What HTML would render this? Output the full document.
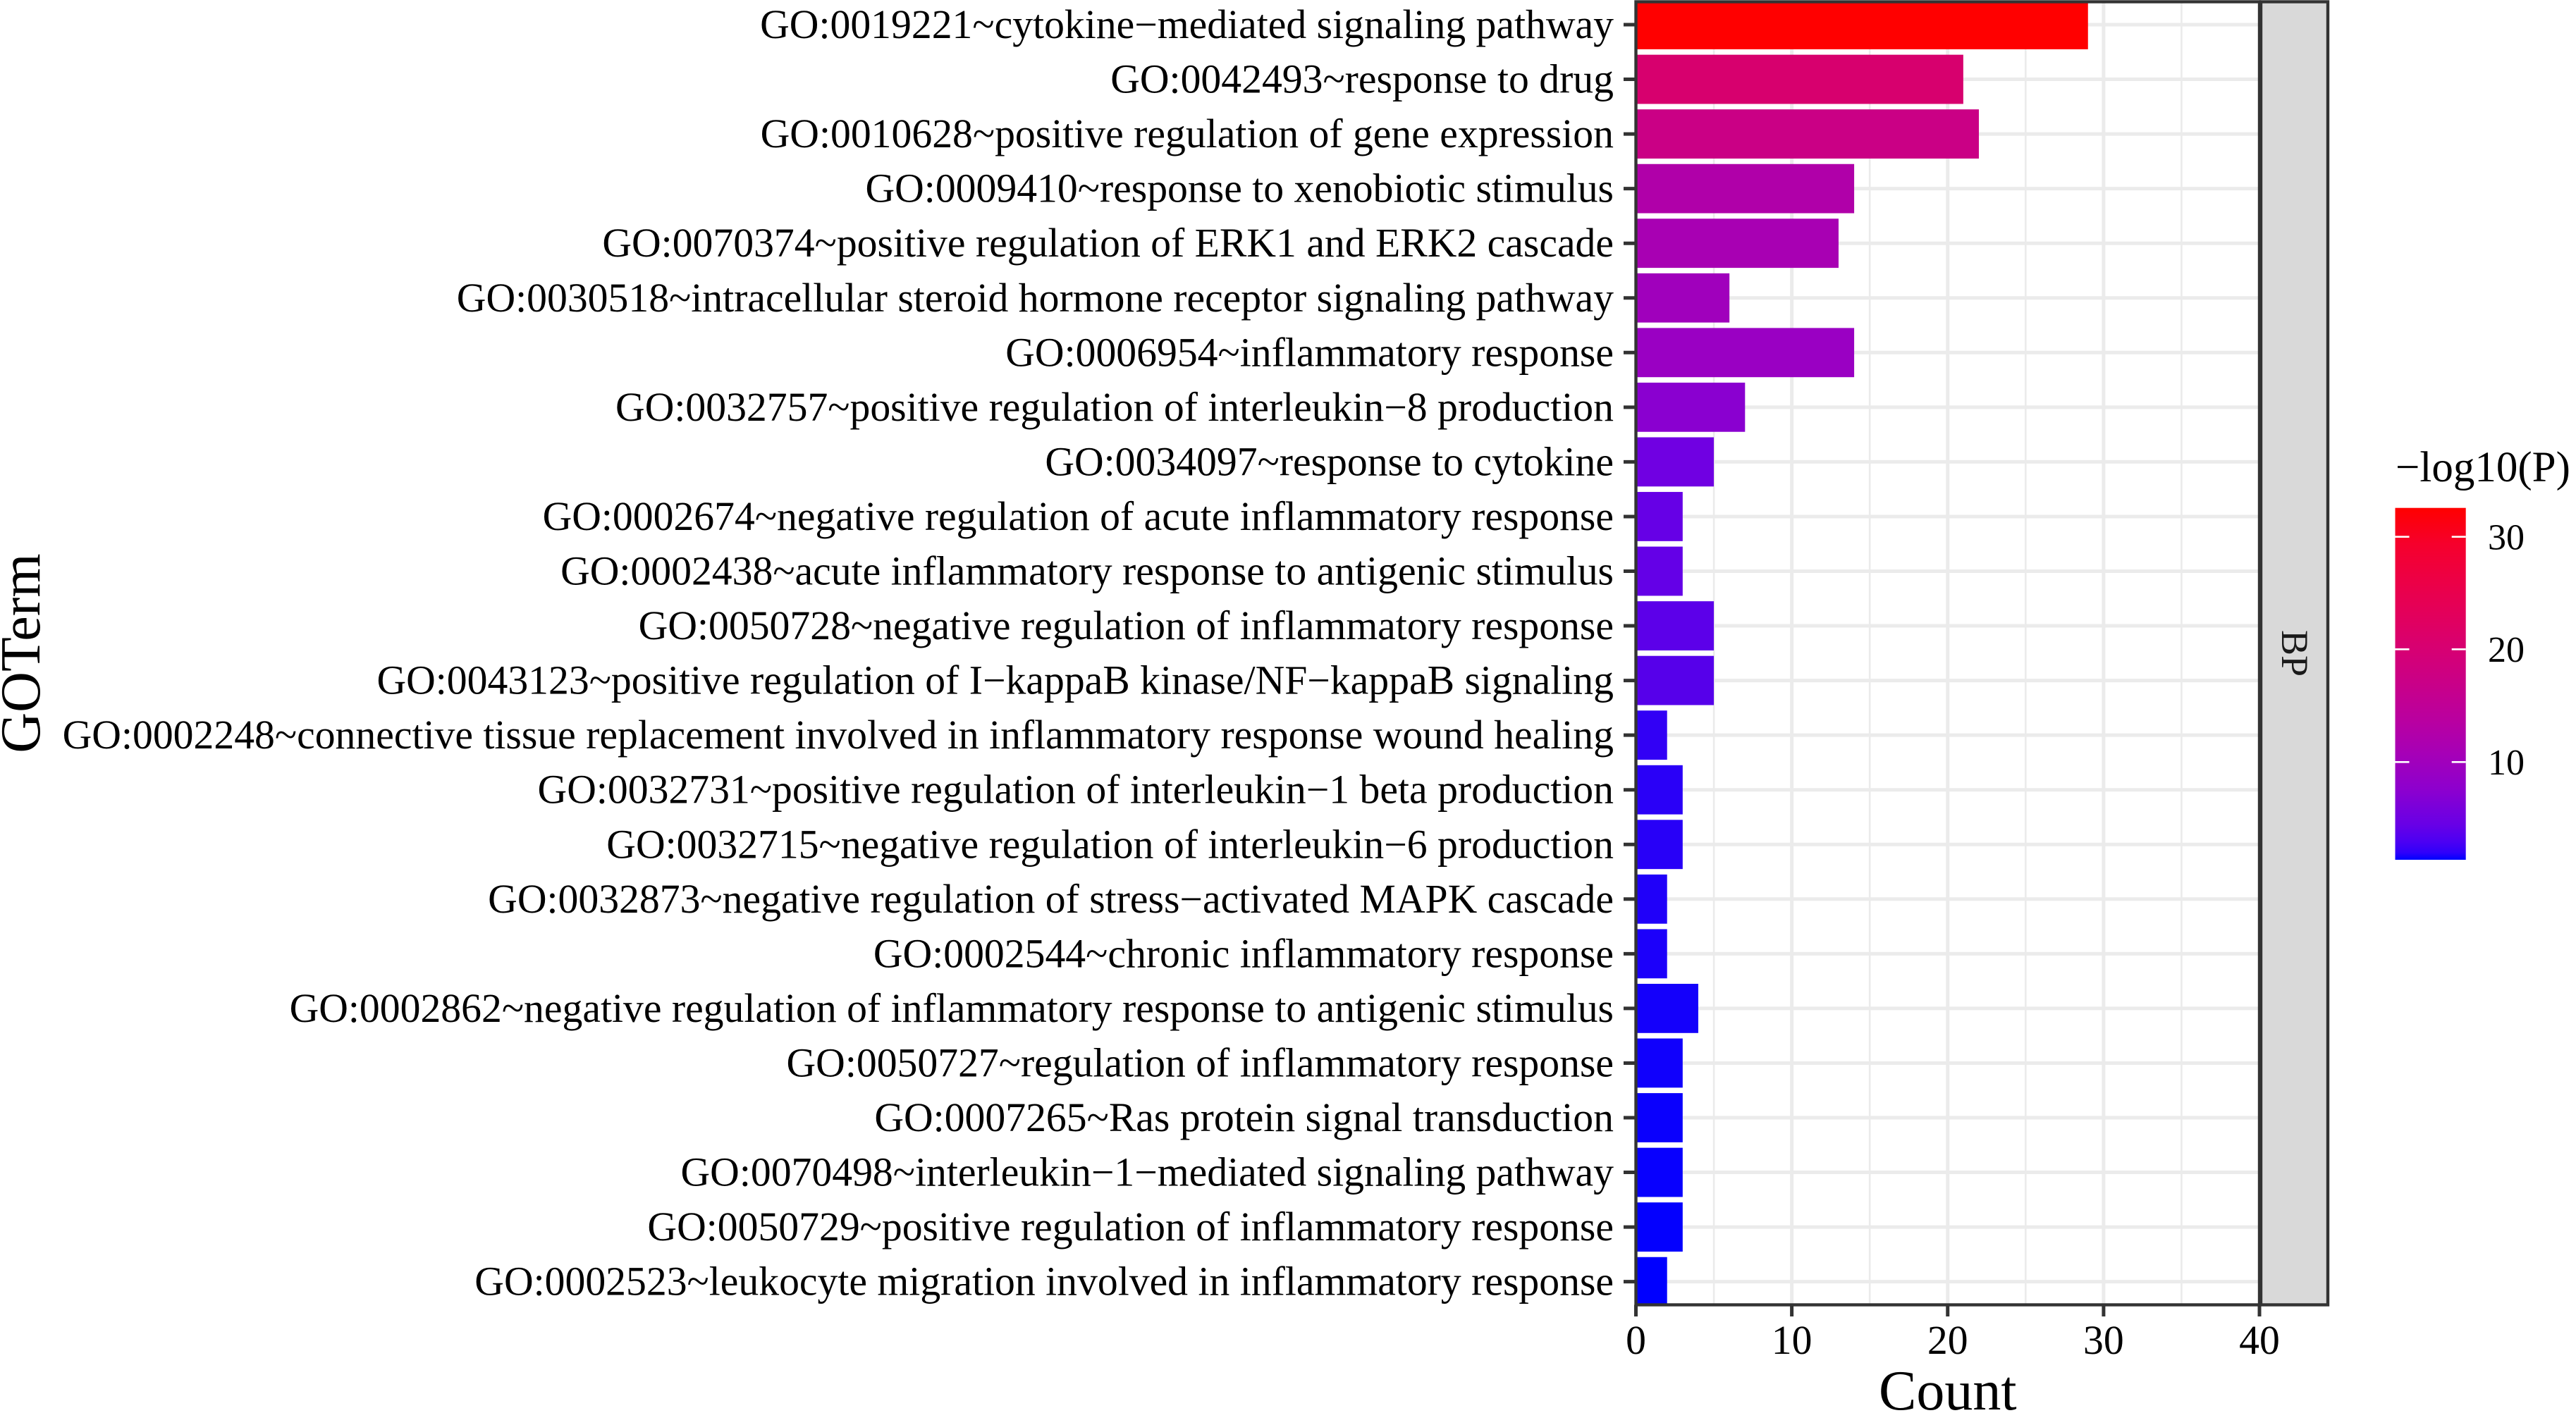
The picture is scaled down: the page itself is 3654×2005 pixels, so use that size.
<!DOCTYPE html>
<html><head><meta charset="utf-8"><style>html,body{margin:0;padding:0;background:#fff;}svg{display:block;}</style></head>
<body>
<svg xmlns="http://www.w3.org/2000/svg" width="3654" height="2005" viewBox="0 0 3654 2005" font-family="'Liberation Serif', 'Times New Roman', serif">
<defs>
<clipPath id="pc"><rect x="2320.5" y="2.5" width="884.5" height="1849"/></clipPath>
<linearGradient id="cb" x1="0" y1="1" x2="0" y2="0">
<stop offset="0" stop-color="#0000FF"/>
<stop offset="0.02" stop-color="#2F00FA"/>
<stop offset="0.05" stop-color="#4B00F3"/>
<stop offset="0.1" stop-color="#6800E6"/>
<stop offset="0.2" stop-color="#8D00CE"/>
<stop offset="0.3" stop-color="#A600B7"/>
<stop offset="0.4" stop-color="#BA009F"/>
<stop offset="0.5" stop-color="#C90088"/>
<stop offset="0.6" stop-color="#D70072"/>
<stop offset="0.7" stop-color="#E3005B"/>
<stop offset="0.8" stop-color="#ED0044"/>
<stop offset="0.9" stop-color="#F6002B"/>
<stop offset="1" stop-color="#FF0000"/>
</linearGradient>
</defs>
<rect width="3654" height="2005" fill="#fff"/>

<g clip-path="url(#pc)">
<rect x="2320.5" y="2.5" width="884.5" height="1849" fill="#fff"/>
<g stroke="#EBEBEB" stroke-width="2.6">
<line x1="2431.1" y1="0" x2="2431.1" y2="1860"/>
<line x1="2652.2" y1="0" x2="2652.2" y2="1860"/>
<line x1="2873.3" y1="0" x2="2873.3" y2="1860"/>
<line x1="3094.4" y1="0" x2="3094.4" y2="1860"/>
</g>
<g stroke="#EBEBEB" stroke-width="5">
<line x1="2541.6" y1="0" x2="2541.6" y2="1860"/>
<line x1="2762.75" y1="0" x2="2762.75" y2="1860"/>
<line x1="2983.9" y1="0" x2="2983.9" y2="1860"/>
<line x1="2320" x2="3206" y1="35" y2="35"/>
<line x1="2320" x2="3206" y1="112.55" y2="112.55"/>
<line x1="2320" x2="3206" y1="190.1" y2="190.1"/>
<line x1="2320" x2="3206" y1="267.65" y2="267.65"/>
<line x1="2320" x2="3206" y1="345.2" y2="345.2"/>
<line x1="2320" x2="3206" y1="422.75" y2="422.75"/>
<line x1="2320" x2="3206" y1="500.3" y2="500.3"/>
<line x1="2320" x2="3206" y1="577.85" y2="577.85"/>
<line x1="2320" x2="3206" y1="655.4" y2="655.4"/>
<line x1="2320" x2="3206" y1="732.95" y2="732.95"/>
<line x1="2320" x2="3206" y1="810.5" y2="810.5"/>
<line x1="2320" x2="3206" y1="888.05" y2="888.05"/>
<line x1="2320" x2="3206" y1="965.6" y2="965.6"/>
<line x1="2320" x2="3206" y1="1043.15" y2="1043.15"/>
<line x1="2320" x2="3206" y1="1120.7" y2="1120.7"/>
<line x1="2320" x2="3206" y1="1198.25" y2="1198.25"/>
<line x1="2320" x2="3206" y1="1275.8" y2="1275.8"/>
<line x1="2320" x2="3206" y1="1353.35" y2="1353.35"/>
<line x1="2320" x2="3206" y1="1430.9" y2="1430.9"/>
<line x1="2320" x2="3206" y1="1508.45" y2="1508.45"/>
<line x1="2320" x2="3206" y1="1586" y2="1586"/>
<line x1="2320" x2="3206" y1="1663.55" y2="1663.55"/>
<line x1="2320" x2="3206" y1="1741.1" y2="1741.1"/>
<line x1="2320" x2="3206" y1="1818.65" y2="1818.65"/>
</g>
<rect x="2320.5" y="0.1" width="641.26" height="69.8" fill="#FF0000"/>
<rect x="2320.5" y="77.65" width="464.36" height="69.8" fill="#D7006E"/>
<rect x="2320.5" y="155.2" width="486.48" height="69.8" fill="#CA0085"/>
<rect x="2320.5" y="232.75" width="309.58" height="69.8" fill="#B000A9"/>
<rect x="2320.5" y="310.3" width="287.46" height="69.8" fill="#A800B3"/>
<rect x="2320.5" y="387.85" width="132.68" height="69.8" fill="#A000BC"/>
<rect x="2320.5" y="465.4" width="309.58" height="69.8" fill="#9A00C3"/>
<rect x="2320.5" y="542.95" width="154.79" height="69.8" fill="#8A00D0"/>
<rect x="2320.5" y="620.5" width="110.56" height="69.8" fill="#7000E2"/>
<rect x="2320.5" y="698.05" width="66.34" height="69.8" fill="#6600E6"/>
<rect x="2320.5" y="775.6" width="66.34" height="69.8" fill="#6400E7"/>
<rect x="2320.5" y="853.15" width="110.56" height="69.8" fill="#5C00E9"/>
<rect x="2320.5" y="930.7" width="110.56" height="69.8" fill="#5600EA"/>
<rect x="2320.5" y="1008.25" width="44.23" height="69.8" fill="#3200F5"/>
<rect x="2320.5" y="1085.8" width="66.34" height="69.8" fill="#2A00F7"/>
<rect x="2320.5" y="1163.35" width="66.34" height="69.8" fill="#2800F7"/>
<rect x="2320.5" y="1240.9" width="44.23" height="69.8" fill="#2000F9"/>
<rect x="2320.5" y="1318.45" width="44.23" height="69.8" fill="#1C00FA"/>
<rect x="2320.5" y="1396" width="88.45" height="69.8" fill="#1400FB"/>
<rect x="2320.5" y="1473.55" width="66.34" height="69.8" fill="#1000FC"/>
<rect x="2320.5" y="1551.1" width="66.34" height="69.8" fill="#0A00FD"/>
<rect x="2320.5" y="1628.65" width="66.34" height="69.8" fill="#0800FE"/>
<rect x="2320.5" y="1706.2" width="66.34" height="69.8" fill="#0400FE"/>
<rect x="2320.5" y="1783.75" width="44.23" height="69.8" fill="#0000FF"/>
</g>
<rect x="2320.5" y="2.5" width="884.5" height="1849" fill="none" stroke="#333333" stroke-width="4.4"/>

<!-- strip -->
<rect x="3207" y="2.5" width="95" height="1849" fill="#D9D9D9" stroke="#333333" stroke-width="4.4"/>
<text transform="translate(3237,927) rotate(90)" text-anchor="middle" font-size="54" fill="#1A1A1A">BP</text>

<!-- y ticks -->
<g stroke="#333333" stroke-width="5">
<line x1="2303" x2="2320.5" y1="35" y2="35"/>
<line x1="2303" x2="2320.5" y1="112.55" y2="112.55"/>
<line x1="2303" x2="2320.5" y1="190.1" y2="190.1"/>
<line x1="2303" x2="2320.5" y1="267.65" y2="267.65"/>
<line x1="2303" x2="2320.5" y1="345.2" y2="345.2"/>
<line x1="2303" x2="2320.5" y1="422.75" y2="422.75"/>
<line x1="2303" x2="2320.5" y1="500.3" y2="500.3"/>
<line x1="2303" x2="2320.5" y1="577.85" y2="577.85"/>
<line x1="2303" x2="2320.5" y1="655.4" y2="655.4"/>
<line x1="2303" x2="2320.5" y1="732.95" y2="732.95"/>
<line x1="2303" x2="2320.5" y1="810.5" y2="810.5"/>
<line x1="2303" x2="2320.5" y1="888.05" y2="888.05"/>
<line x1="2303" x2="2320.5" y1="965.6" y2="965.6"/>
<line x1="2303" x2="2320.5" y1="1043.15" y2="1043.15"/>
<line x1="2303" x2="2320.5" y1="1120.7" y2="1120.7"/>
<line x1="2303" x2="2320.5" y1="1198.25" y2="1198.25"/>
<line x1="2303" x2="2320.5" y1="1275.8" y2="1275.8"/>
<line x1="2303" x2="2320.5" y1="1353.35" y2="1353.35"/>
<line x1="2303" x2="2320.5" y1="1430.9" y2="1430.9"/>
<line x1="2303" x2="2320.5" y1="1508.45" y2="1508.45"/>
<line x1="2303" x2="2320.5" y1="1586" y2="1586"/>
<line x1="2303" x2="2320.5" y1="1663.55" y2="1663.55"/>
<line x1="2303" x2="2320.5" y1="1741.1" y2="1741.1"/>
<line x1="2303" x2="2320.5" y1="1818.65" y2="1818.65"/>
<!-- x ticks -->
<line x1="2320.5" x2="2320.5" y1="1851.5" y2="1868"/>
<line x1="2541.6" x2="2541.6" y1="1851.5" y2="1868"/>
<line x1="2762.75" x2="2762.75" y1="1851.5" y2="1868"/>
<line x1="2983.9" x2="2983.9" y1="1851.5" y2="1868"/>
<line x1="3205" x2="3205" y1="1851.5" y2="1868"/>
</g>

<!-- y labels -->
<g font-size="57.7" fill="#000" text-anchor="end">
<text x="2289" y="54">GO:0019221~cytokine−mediated signaling pathway</text>
<text x="2289" y="131.55">GO:0042493~response to drug</text>
<text x="2289" y="209.1">GO:0010628~positive regulation of gene expression</text>
<text x="2289" y="286.65">GO:0009410~response to xenobiotic stimulus</text>
<text x="2289" y="364.2">GO:0070374~positive regulation of ERK1 and ERK2 cascade</text>
<text x="2289" y="441.75">GO:0030518~intracellular steroid hormone receptor signaling pathway</text>
<text x="2289" y="519.3">GO:0006954~inflammatory response</text>
<text x="2289" y="596.85">GO:0032757~positive regulation of interleukin−8 production</text>
<text x="2289" y="674.4">GO:0034097~response to cytokine</text>
<text x="2289" y="751.95">GO:0002674~negative regulation of acute inflammatory response</text>
<text x="2289" y="829.5">GO:0002438~acute inflammatory response to antigenic stimulus</text>
<text x="2289" y="907.05">GO:0050728~negative regulation of inflammatory response</text>
<text x="2289" y="984.6">GO:0043123~positive regulation of I−kappaB kinase/NF−kappaB signaling</text>
<text x="2289" y="1062.15">GO:0002248~connective tissue replacement involved in inflammatory response wound healing</text>
<text x="2289" y="1139.7">GO:0032731~positive regulation of interleukin−1 beta production</text>
<text x="2289" y="1217.25">GO:0032715~negative regulation of interleukin−6 production</text>
<text x="2289" y="1294.8">GO:0032873~negative regulation of stress−activated MAPK cascade</text>
<text x="2289" y="1372.35">GO:0002544~chronic inflammatory response</text>
<text x="2289" y="1449.9">GO:0002862~negative regulation of inflammatory response to antigenic stimulus</text>
<text x="2289" y="1527.45">GO:0050727~regulation of inflammatory response</text>
<text x="2289" y="1605">GO:0007265~Ras protein signal transduction</text>
<text x="2289" y="1682.55">GO:0070498~interleukin−1−mediated signaling pathway</text>
<text x="2289" y="1760.1">GO:0050729~positive regulation of inflammatory response</text>
<text x="2289" y="1837.65">GO:0002523~leukocyte migration involved in inflammatory response</text>
</g>

<!-- x labels -->
<g font-size="57.7" fill="#000" text-anchor="middle">
<text x="2320.5" y="1921">0</text>
<text x="2541.6" y="1921">10</text>
<text x="2762.75" y="1921">20</text>
<text x="2983.9" y="1921">30</text>
<text x="3205" y="1921">40</text>
</g>

<!-- axis titles -->
<text x="2762.75" y="2000" font-size="80" text-anchor="middle" fill="#000">Count</text>
<text transform="translate(56,927) rotate(-90)" font-size="80" text-anchor="middle" fill="#000">GOTerm</text>

<!-- legend -->
<text x="3398" y="683" font-size="61" fill="#000">−log10(P)</text>
<rect x="3397.5" y="720.7" width="100.2" height="499.3" fill="url(#cb)"/>
<g stroke="#fff" stroke-width="2.6">
<line x1="3397.5" x2="3417.5" y1="761.7" y2="761.7"/>
<line x1="3477.7" x2="3497.7" y1="761.7" y2="761.7"/>
<line x1="3397.5" x2="3417.5" y1="921.3" y2="921.3"/>
<line x1="3477.7" x2="3497.7" y1="921.3" y2="921.3"/>
<line x1="3397.5" x2="3417.5" y1="1081.3" y2="1081.3"/>
<line x1="3477.7" x2="3497.7" y1="1081.3" y2="1081.3"/>
</g>
<g font-size="52" fill="#000">
<text x="3529" y="779.3">30</text>
<text x="3529" y="938.9">20</text>
<text x="3529" y="1098.9">10</text>
</g>
</svg>
</body></html>
